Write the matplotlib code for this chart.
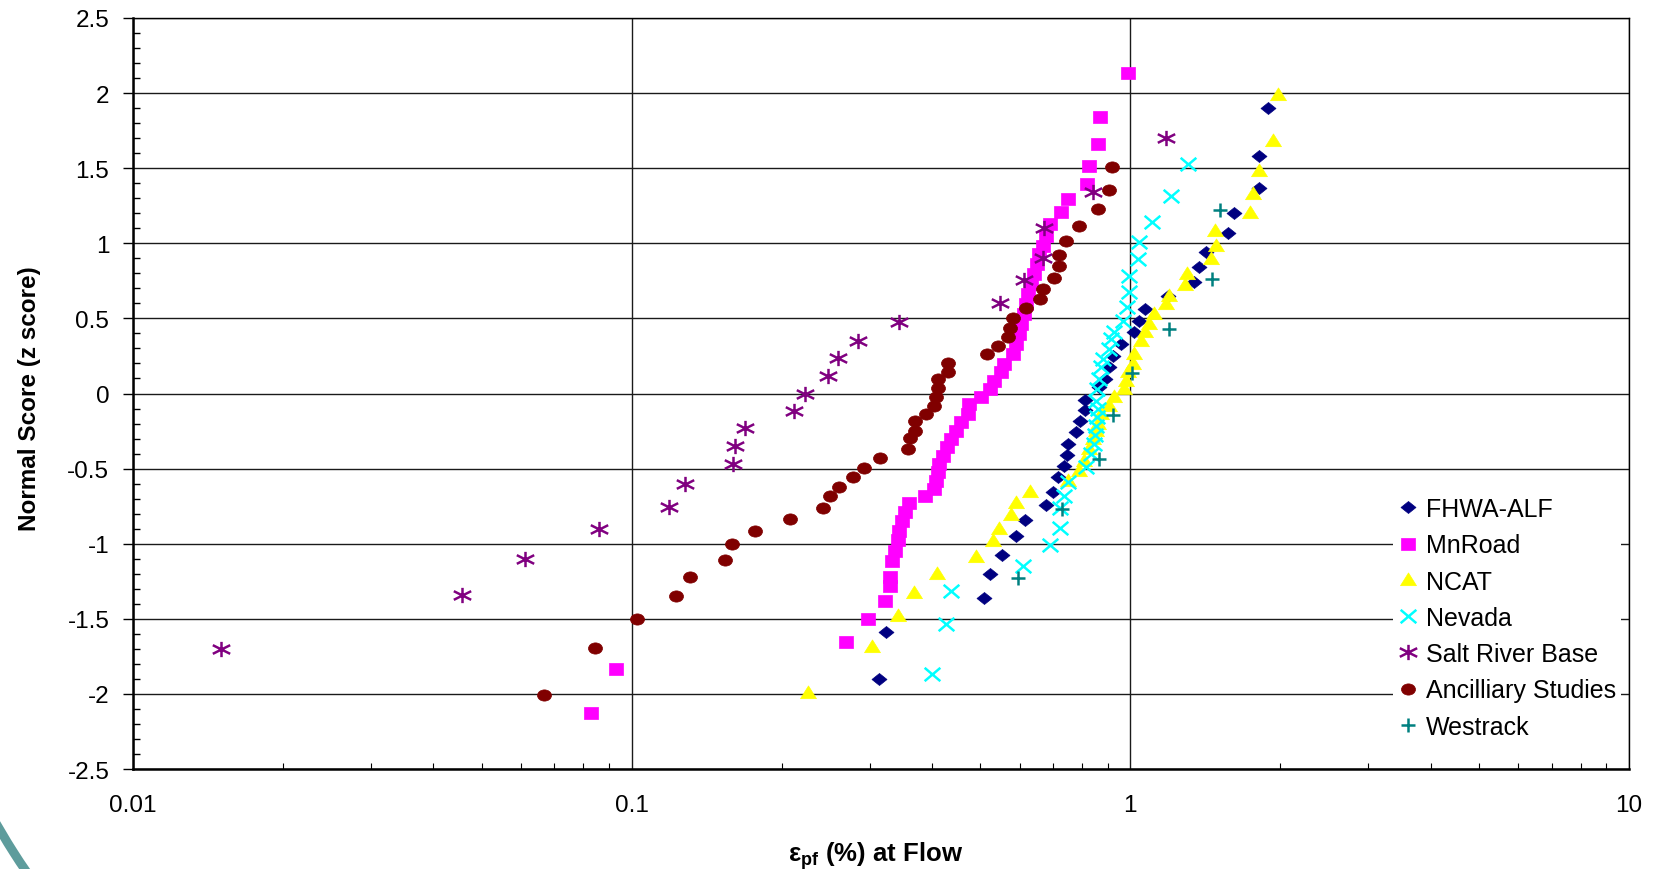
import numpy as np
import matplotlib
matplotlib.use("Agg")
import matplotlib.pyplot as plt
from matplotlib.path import Path
from matplotlib.patches import Arc
from matplotlib.transforms import IdentityTransform
from matplotlib.ticker import FixedLocator, LogLocator, NullFormatter

plt.rcParams["font.family"] = ["Liberation Sans", "DejaVu Sans"]

# values (epf % at flow, normal score)
fhwa_x = [0.314, 0.324, 0.508, 0.524, 0.552, 0.590, 0.616, 0.678, 0.701, 0.715, 0.737, 0.746,
          0.749, 0.778, 0.793, 0.813, 0.813, 0.867, 0.891, 0.905, 0.921, 0.958, 1.019, 1.039,
          1.072, 1.192, 1.344, 1.371, 1.418, 1.567, 1.616, 1.814, 1.814, 1.891]
fhwa_z = [-1.90, -1.586, -1.364, -1.204, -1.075, -0.947, -0.844, -0.740, -0.654, -0.558, -0.485, -0.409,
          -0.336, -0.258, -0.181, -0.108, -0.041, 0.041, 0.097, 0.174, 0.252, 0.330, 0.407, 0.485,
          0.563, 0.651, 0.740, 0.840, 0.940, 1.069, 1.200, 1.366, 1.579, 1.899]

mnroad_x = [0.0827, 0.0932, 0.2685, 0.2985, 0.3224, 0.329, 0.329, 0.3325, 0.3366, 0.3418, 0.3444, 0.3487,
            0.3525, 0.3607, 0.3866, 0.4035, 0.408, 0.411, 0.414, 0.4206, 0.4285, 0.437, 0.447, 0.458,
            0.472, 0.474, 0.502, 0.522, 0.534, 0.550, 0.559, 0.581, 0.590, 0.599, 0.604, 0.613,
            0.618, 0.623, 0.632, 0.642, 0.650, 0.657, 0.667, 0.678, 0.690, 0.726, 0.750, 0.817,
            0.825, 0.862, 0.871, 0.989]
mnroad_z = [-2.125, -1.832, -1.652, -1.501, -1.384, -1.284, -1.22, -1.115, -1.047, -0.973, -0.913, -0.847,
            -0.791, -0.729, -0.680, -0.636, -0.580, -0.525, -0.469, -0.414, -0.358, -0.303, -0.248, -0.192,
            -0.137, -0.070, -0.025, 0.030, 0.085, 0.141, 0.196, 0.263, 0.330, 0.396, 0.463, 0.529,
            0.596, 0.662, 0.729, 0.796, 0.862, 0.929, 0.984, 1.051, 1.128, 1.206, 1.295, 1.395,
            1.513, 1.661, 1.843, 2.134]

ncat_x = [0.2254, 0.3035, 0.3418, 0.368, 0.410, 0.4907, 0.530, 0.546, 0.577, 0.590, 0.628, 0.749,
          0.790, 0.809, 0.828, 0.840, 0.853, 0.860, 0.873, 0.908, 0.929, 0.973, 0.980, 0.988,
          1.011, 1.019, 1.05, 1.072, 1.092, 1.117, 1.179, 1.197, 1.289, 1.297, 1.451, 1.485,
          1.480, 1.738, 1.759, 1.814, 1.934, 1.973]
ncat_z = [-1.994, -1.686, -1.479, -1.330, -1.204, -1.091, -0.984, -0.902, -0.807, -0.729, -0.654, -0.581,
          -0.514, -0.447, -0.369, -0.303, -0.248, -0.203, -0.137, -0.081, -0.025, 0.030, 0.085, 0.141,
          0.196, 0.263, 0.352, 0.407, 0.463, 0.529, 0.596, 0.651, 0.722, 0.796, 0.896, 0.980,
          1.080, 1.202, 1.328, 1.479, 1.683, 1.987]

nevada_x = [0.4005, 0.427, 0.437, 0.608, 0.691, 0.723, 0.724, 0.737, 0.751, 0.815, 0.834, 0.847,
            0.851, 0.852, 0.856, 0.860, 0.852, 0.856, 0.867, 0.873, 0.880, 0.908, 0.915, 0.929,
            0.965, 0.983, 0.995, 0.995, 1.034, 1.039, 1.105, 1.206, 1.303]
nevada_z = [-1.868, -1.535, -1.317, -1.151, -1.009, -0.895, -0.764, -0.680, -0.587, -0.491, -0.403, -0.336,
            -0.276, -0.214, -0.159, -0.103, -0.048, 0.030, 0.097, 0.174, 0.230, 0.296, 0.363, 0.407,
            0.485, 0.574, 0.674, 0.784, 0.896, 1.007, 1.144, 1.313, 1.528]

salt_x = [0.0150, 0.0457, 0.0610, 0.0859, 0.119, 0.128, 0.160, 0.161, 0.169, 0.212, 0.223, 0.248,
          0.259, 0.284, 0.343, 0.547, 0.612, 0.668, 0.671, 0.840, 1.18]
salt_z = [-1.70, -1.34, -1.10, -0.90, -0.755, -0.60, -0.47, -0.35, -0.23, -0.115, 0.0, 0.115,
          0.235, 0.35, 0.475, 0.60, 0.755, 0.90, 1.10, 1.34, 1.70]

anc_x = [0.0667, 0.0846, 0.1025, 0.1229, 0.1311, 0.1538, 0.1589, 0.1769, 0.2077, 0.2415, 0.2496, 0.2602,
         0.2773, 0.292, 0.315, 0.358, 0.362, 0.370, 0.370, 0.390, 0.403, 0.408, 0.412, 0.412,
         0.431, 0.430, 0.517, 0.544, 0.5675, 0.575, 0.581, 0.619, 0.659, 0.667, 0.703, 0.719,
         0.721, 0.743, 0.790, 0.862, 0.908, 0.919]
anc_z = [-2.008, -1.694, -1.501, -1.346, -1.22, -1.107, -1.004, -0.913, -0.838, -0.762, -0.685, -0.620,
         -0.558, -0.494, -0.429, -0.367, -0.298, -0.252, -0.185, -0.137, -0.083, -0.021, 0.035, 0.095,
         0.143, 0.203, 0.261, 0.314, 0.378, 0.438, 0.505, 0.567, 0.629, 0.696, 0.769, 0.847,
         0.922, 1.013, 1.115, 1.228, 1.357, 1.510]

west_x = [0.5965, 0.728, 0.867, 0.921, 1.008, 1.197, 1.46, 1.513]
west_z = [-1.23, -0.771, -0.436, -0.141, 0.137, 0.429, 0.762, 1.222]

y_ticks = [-2.5, -2, -1.5, -1, -0.5, 0, 0.5, 1, 1.5, 2, 2.5]
y_labels = ["-2.5", "-2", "-1.5", "-1", "-0.5", "0", "0.5", "1", "1.5", "2", "2.5"]
x_ticks = [0.01, 0.1, 1, 10]
x_labels = ["0.01", "0.1", "1", "10"]

# marker shapes, slightly wider than tall like the original
M, L = Path.MOVETO, Path.LINETO
diamond = Path([(0, 0.8), (1, 0), (0, -0.8), (-1, 0), (0, 0.8)], closed=True)
square = Path([(-1, -0.8), (1, -0.8), (1, 0.8), (-1, 0.8), (-1, -0.8)], closed=True)
triangle = Path([(-1, -0.65), (1, -0.65), (0, 0.95), (-1, -0.65)], closed=True)
circ = Path.unit_circle()
ellipse = Path(circ.vertices * [1, 0.8], circ.codes)
cross = Path([(-1, -0.85), (1, 0.85), (-1, 0.85), (1, -0.85)], [M, L, M, L])
aster = Path([(0, -0.88), (0, 0.88), (-1, -0.5), (1, 0.5), (-1, 0.5), (1, -0.5)], [M, L, M, L, M, L])
plus = Path([(-1, 0), (1, 0), (0, -1), (0, 1)], [M, L, M, L])

series = [
    ("FHWA-ALF", fhwa_x, fhwa_z, diamond, 10.8, "#000080", True),
    ("MnRoad", mnroad_x, mnroad_z, square, 10.1, "#ff00ff", True),
    ("NCAT", ncat_x, ncat_z, triangle, 11.5, "#ffff00", True),
    ("Nevada", nevada_x, nevada_z, cross, 11.3, "#00ffff", False),
    ("Salt River Base", salt_x, salt_z, aster, 12.5, "#800080", False),
    ("Ancilliary Studies", anc_x, anc_z, ellipse, 10.1, "#800000", True),
    ("Westrack", west_x, west_z, plus, 10.6, "#008080", False),
]

fig = plt.figure(figsize=(16.56, 8.7), dpi=100)
ax = fig.add_axes([0.0803, 0.1149, 0.9034, 0.8633])

for label, xs, zs, mk, ms, col, filled in series:
    if filled:
        ax.plot(xs, zs, ls="none", marker=mk, ms=ms, mfc=col, mec=col, mew=0.5, label=label)
    else:
        ax.plot(xs, zs, ls="none", marker=mk, ms=ms, mfc="none", mec=col, mew=1.8, label=label)

ax.set_xscale("log")
ax.set_xlim(0.01, 10)
ax.set_ylim(-2.5, 2.5)
ax.set_xticks(x_ticks)
ax.set_xticklabels(x_labels)
ax.xaxis.set_minor_locator(LogLocator(base=10, subs=np.arange(2, 10)))
ax.xaxis.set_minor_formatter(NullFormatter())
ax.set_yticks(y_ticks)
ax.set_yticklabels(y_labels)
ax.yaxis.set_minor_locator(FixedLocator(np.arange(-2.5, 2.51, 0.1)))

ax.tick_params(axis="y", which="major", direction="out", length=7, width=1, labelsize=17.5, pad=10)
ax.tick_params(axis="y", which="minor", direction="in", length=5, width=1)
ax.tick_params(axis="x", which="major", length=0, labelsize=17.5, pad=18)
ax.tick_params(axis="x", which="minor", direction="in", length=4, width=0.8)

ax.set_axisbelow(True)
ax.grid(True, which="major", color="#1a1a1a", linewidth=1.0)
for side in ["top", "right"]:
    ax.spines[side].set_linewidth(1.0)
for side in ["left", "bottom"]:
    ax.spines[side].set_linewidth(1.8)

fig.text(30 / 1656, 1 - 399 / 870, "Normal Score (z score)", rotation=90,
         ha="center", va="center", fontsize=17.5, fontweight="bold")
fig.text(876 / 1656, 1 - 862 / 870, r"$\mathregular{\varepsilon_{pf}}$ (%) at Flow",
         ha="center", va="baseline", fontsize=18.5, fontweight="bold")

# white legend box hides the gridlines behind it
leg = ax.legend(loc="upper left", bbox_to_anchor=(0.8414, 0.4333), bbox_transform=fig.transFigure,
                frameon=True, fancybox=False, facecolor="white", edgecolor="none", framealpha=1,
                borderpad=0.2, borderaxespad=0, handlelength=0.8, handletextpad=0.31,
                labelspacing=0.49, fontsize=18)

# slide template swoosh in the lower-left corner
arc = Arc((604, 392.7), 1400, 1400, theta1=205, theta2=220, linewidth=6.5,
          color="#5e9c9c", transform=IdentityTransform())
fig.add_artist(arc)

fig.savefig("out.png", dpi=100)
plt.close(fig)
